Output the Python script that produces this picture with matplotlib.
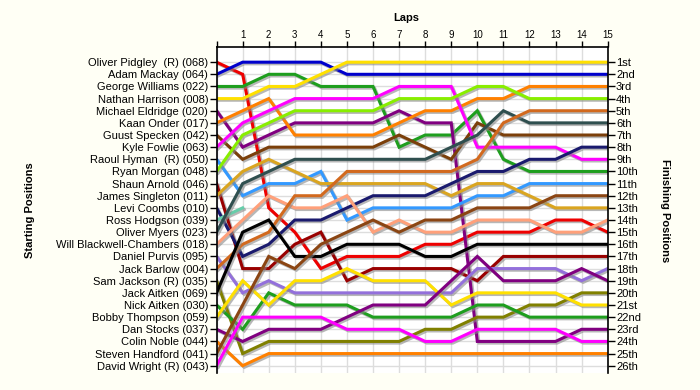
import numpy as np
import matplotlib.pyplot as plt
import matplotlib.patheffects as pe

plt.rcParams['font.family'] = ['Liberation Sans', 'DejaVu Sans']

# starting grid names, top to bottom
names = ["Oliver Pidgley  (R) (068)", "Adam Mackay (064)", "George Williams (022)",
         "Nathan Harrison (008)", "Michael Eldridge (020)", "Kaan Onder (017)",
         "Guust Specken (042)", "Kyle Fowlie (063)", "Raoul Hyman  (R) (050)",
         "Ryan Morgan (048)", "Shaun Arnold (046)", "James Singleton (011)",
         "Levi Coombs (010)", "Ross Hodgson (039)", "Oliver Myers (023)",
         "Will Blackwell-Chambers (018)", "Daniel Purvis (095)", "Jack Barlow (004)",
         "Sam Jackson (R) (035)", "Jack Aitken (069)", "Nick Aitken (030)",
         "Bobby Thompson (059)", "Dan Stocks (037)", "Colin Noble (044)",
         "Steven Handford (041)", "David Wright (R) (043)"]

laps = list(range(0, 16))

# position at lap 0..15 (lap 0 = grid)
red      = [1, 2, 13, 15, 18, 17, 17, 17, 16, 16, 15, 15, 15, 14, 14, 15]
blue     = [2, 1, 1, 1, 1, 2, 2, 2, 2, 2, 2, 2, 2, 2, 2, 2]
green    = [3, 3, 2, 2, 3, 3, 3, 8, 7, 7, 5, 9, 10, 10, 10, 10]
yellow   = [4, 4, 3, 3, 2, 1, 1, 1, 1, 1, 1, 1, 1, 1, 1, 1]
purple   = [5, 8, 7, 6, 6, 6, 6, 5, 6, 6, 24, 24, 24, 24, 23, 23]
orange   = [6, 5, 4, 7, 7, 7, 7, 6, 5, 5, 4, 4, 3, 3, 3, 3]
brown    = [7, 9, 8, 8, 8, 8, 8, 7, 8, 9, 6, 7, 7, 7, 7, 7]
magenta  = [8, 6, 5, 4, 4, 4, 4, 3, 3, 3, 8, 8, 8, 8, 9, 9]
ltblue   = [9, 12, 11, 11, 10, 14, 13, 13, 13, 13, 12, 12, 11, 11, 11, 11]
lime     = [10, 7, 6, 5, 5, 5, 5, 4, 4, 4, 3, 3, 4, 4, 4, 4]
darkred  = [11, 18, 18, 16, 15, 19, 18, 18, 18, 18, 19, 17, 17, 17, 17, 17]
golden   = [12, 10, 9, 10, 11, 11, 11, 11, 11, 12, 11, 11, 12, 13, 13, 13]
navy     = [13, 17, 16, 14, 14, 13, 12, 12, 12, 11, 10, 10, 9, 9, 8, 8]
aqua     = [14, 13]
salmon   = [15, 11, 10, 9, 9, 9, 9, 9, 9, 8, 7, 5, 6, 6, 6, 6]
slate    = [16, 14, 12, 13, 13, 12, 15, 14, 15, 15, 14, 14, 14, 15, 15, 14]
lavender = [17, 20, 19, 20, 20, 20, 20, 20, 20, 20, 18, 18, 18, 18, 19, 18]
choc     = [18, 16, 15, 12, 12, 10, 10, 10, 10, 10, 9, 6, 5, 5, 5, 5]
olive    = [19, 25, 24, 24, 24, 24, 24, 24, 23, 23, 22, 22, 21, 21, 20, 20]
black    = [20, 15, 14, 17, 17, 16, 16, 16, 17, 17, 16, 16, 16, 16, 16, 16]
green2   = [21, 23, 20, 21, 21, 21, 22, 22, 22, 22, 21, 21, 22, 22, 22, 22]
yellow2  = [22, 19, 21, 19, 19, 18, 19, 19, 19, 21, 20, 20, 20, 20, 21, 21]
purple2  = [23, 24, 23, 23, 23, 22, 21, 21, 21, 19, 17, 19, 19, 19, 18, 19]
orange2  = [24, 26, 25, 25, 25, 25, 25, 25, 25, 25, 25, 25, 25, 25, 25, 25]
brown2   = [25, 21, 17, 18, 16, 15, 14, 15, 14, 14, 13, 13, 13, 12, 12, 12]
magenta2 = [26, 22, 22, 22, 22, 23, 23, 23, 24, 24, 23, 23, 23, 23, 24, 24]

series = [red, blue, green, yellow, purple, orange, brown, magenta, ltblue, lime,
          darkred, golden, navy, aqua, salmon, slate, lavender, choc, olive, black,
          green2, yellow2, purple2, orange2, brown2, magenta2]
colors = ['#EE0000', '#0000CC', '#1E9E1E', '#FFE000', '#800080', '#FF8000',
          '#7B3F0A', '#FF00FF', '#3399FF', '#88EE00', '#990000', '#DAA520',
          '#1A1A6E', '#66CDAA', '#2F4F4F', '#FFA07A', '#9370DB', '#D2691E',
          '#808000', '#000000', '#1E9E1E', '#FFE000', '#800080', '#FF8000',
          '#8B4513', '#FF00FF']

finish = ['1st', '2nd', '3rd'] + [f'{i}th' for i in range(4, 21)] + ['21st', '22nd', '23rd', '24th', '25th', '26th']

bg = '#FFFFF5'
fig = plt.figure(figsize=(7, 3.9), dpi=100, facecolor=bg)
ax = fig.add_axes([0.3094, 0.0436, 0.5587, 0.8359], facecolor='white')

for k in laps:
    ax.axvline(k, color='#DDDDDD', lw=1, zorder=0)
for p in range(1, 27):
    ax.axhline(p, color='#DDDDDD', lw=1, zorder=0)

shadow = [pe.SimpleLineShadow(offset=(1.2, -1.2), shadow_color='#888888', alpha=0.6), pe.Normal()]
for s, c in zip(series, colors):
    ax.plot(laps[:len(s)], s, color=c, lw=2.2, solid_joinstyle='miter',
            path_effects=shadow, zorder=2)

ax.set_xlim(0, 15)
ax.set_ylim(26.6, -0.25)
ax.spines['bottom'].set_visible(False)
for sp in ['left', 'right', 'top']:
    ax.spines[sp].set_linewidth(1.2)

ax.xaxis.tick_top()
ax.set_xticks(laps)
ax.set_xticklabels([''] + [str(k) for k in laps[1:]], fontsize=7)
ax.tick_params(axis='x', length=4, width=1, pad=1)

ax.set_yticks(range(1, 27))
ax.set_yticklabels(names, fontsize=8)
ax.tick_params(axis='y', length=5, width=1, pad=1)

ax2 = ax.twinx()
ax2.set_ylim(ax.get_ylim())
ax2.set_yticks(range(1, 27))
ax2.set_yticklabels(finish, fontsize=8)
ax2.tick_params(axis='y', length=5, width=1, pad=1)
for sp in ax2.spines.values():
    sp.set_visible(False)

fig.text(0.581, 0.955, 'Laps', ha='center', va='center', fontsize=8, fontweight='bold')
fig.text(0.043, 0.46, 'Starting Positions', ha='center', va='center', rotation=90,
         fontsize=8, fontweight='bold')
fig.text(0.95, 0.46, 'Finishing Positions', ha='center', va='center', rotation=270,
         fontsize=8, fontweight='bold')

fig.savefig('out.png', dpi=100, facecolor=bg)
